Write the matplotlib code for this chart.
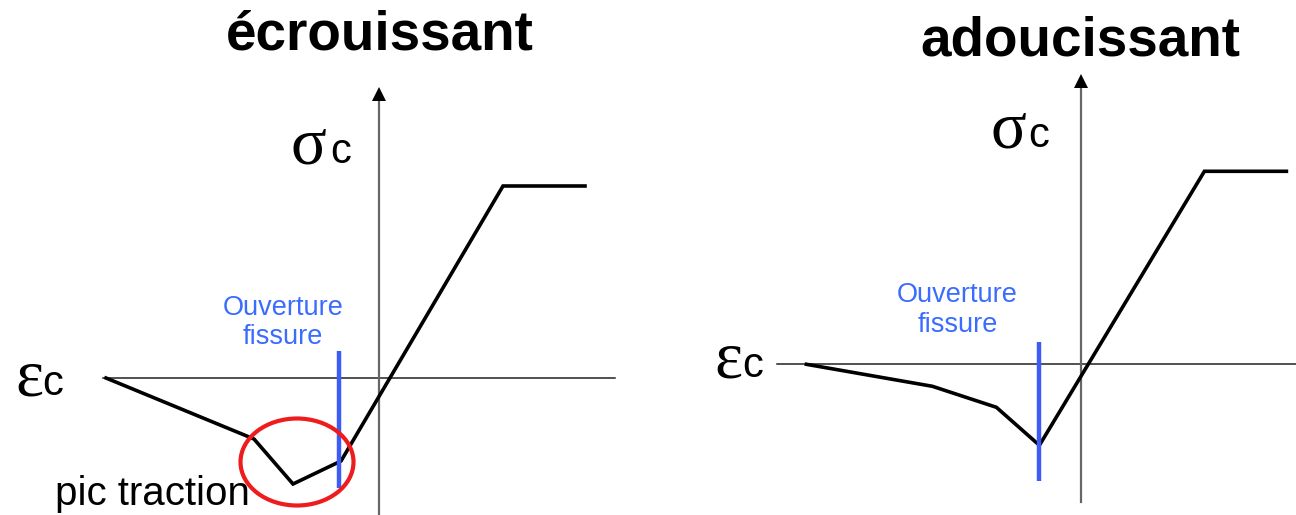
import matplotlib
matplotlib.use("Agg")
import matplotlib.pyplot as plt
from matplotlib.patches import Ellipse

# ---- data (schematic units, origin at axes crossing) ----
left_title = "écrouissant"
right_title = "adoucissant"

left_strain = [-273, -125, -86, -38, 124, 206]
left_stress = [0, -61, -106, -83, 192, 192]

right_strain = [-275, -149, -85, -42, 123, 205]
right_stress = [0, -22, -43, -81, 193, 193]

left_crack_x = -40
left_crack_y = [27, -110]
right_crack_x = -42
right_crack_y = [22, -117]

crack_label = ["Ouverture", "fissure"]
peak_label = "pic traction"

BLUE_TXT = "#3a6cff"
BLUE_LINE = "#3d5cf5"
RED = "#ee1c1c"

fig = plt.figure(figsize=(12.96, 5.15), dpi=100)
axL = fig.add_axes([0, 0, 0.5, 1])
axR = fig.add_axes([0.5, 0, 0.5, 1])
axL.set_xlim(-379, 269)
axL.set_ylim(-137, 378)
axR.set_xlim(-433.4, 214.6)
axR.set_ylim(-150.7, 364.3)
for ax in (axL, axR):
    ax.axis("off")


def draw_axes(ax, xmin, xmax, ytop, ybot):
    ax.plot([xmin, xmax], [0, 0], color="#222222", lw=1.1, zorder=1)
    ax.plot([0, 0], [ybot, ytop - 6], color="#666666", lw=1.6, zorder=1)
    ax.plot([0], [ytop - 6], marker="^", markersize=9.5, color="black",
            markeredgewidth=0, zorder=2)


def labels(ax, sright, sy, cx, ex, ey, ecx):
    ax.text(sright, sy, "σ", family="Liberation Serif", fontsize=48,
            ha="right", va="baseline", color="black")
    ax.text(cx, sy, "c", family="Liberation Sans", fontsize=30,
            ha="left", va="baseline", color="black")
    ax.text(ex, ey, "ε", family="Liberation Serif", fontsize=48,
            ha="left", va="baseline", color="black")
    ax.text(ecx, ey, "c", family="Liberation Sans", fontsize=30,
            ha="left", va="baseline", color="black")


def crack_text(ax, x, y0, y1):
    ax.text(x, y0, crack_label[0], family="Liberation Sans", fontsize=19.5,
            color=BLUE_TXT, ha="center", va="baseline")
    ax.text(x, y1, crack_label[1], family="Liberation Sans", fontsize=19.5,
            color=BLUE_TXT, ha="center", va="baseline")


# ---- left panel ----
draw_axes(axL, -276, 236, 290, -140)
axL.plot(left_strain, left_stress, color="black", lw=2.6,
         solid_joinstyle="miter", zorder=3)
axL.plot([left_crack_x, left_crack_x], left_crack_y, color=BLUE_LINE,
         lw=3.2, solid_capstyle="butt", zorder=4)
axL.add_patch(Ellipse((-82, -84), 113, 87, fill=False, edgecolor=RED,
                      lw=3.0, zorder=5))
axL.text(0.5, 329, left_title, family="Liberation Sans", fontweight="bold",
         fontsize=39.5, ha="center", va="baseline")
labels(axL, -53, 215, -49, -364, -17, -337)
crack_text(axL, -96, 63, 34)
axL.text(-324, -127, peak_label, family="Liberation Sans", fontsize=29,
         ha="left", va="baseline")

# ---- right panel ----
draw_axes(axR, -304, 215, 289, -138)
axR.plot(right_strain, right_stress, color="black", lw=2.6,
         solid_joinstyle="miter", zorder=3)
axR.plot([right_crack_x, right_crack_x], right_crack_y, color=BLUE_LINE,
         lw=3.2, solid_capstyle="butt", zorder=4)
axR.text(-1, 309, right_title, family="Liberation Sans", fontweight="bold",
         fontsize=39.5, ha="center", va="baseline")
labels(axR, -55, 217, -53, -367, -13, -339)
crack_text(axR, -124, 62, 32)

fig.savefig("out.png", dpi=100, facecolor="white")
